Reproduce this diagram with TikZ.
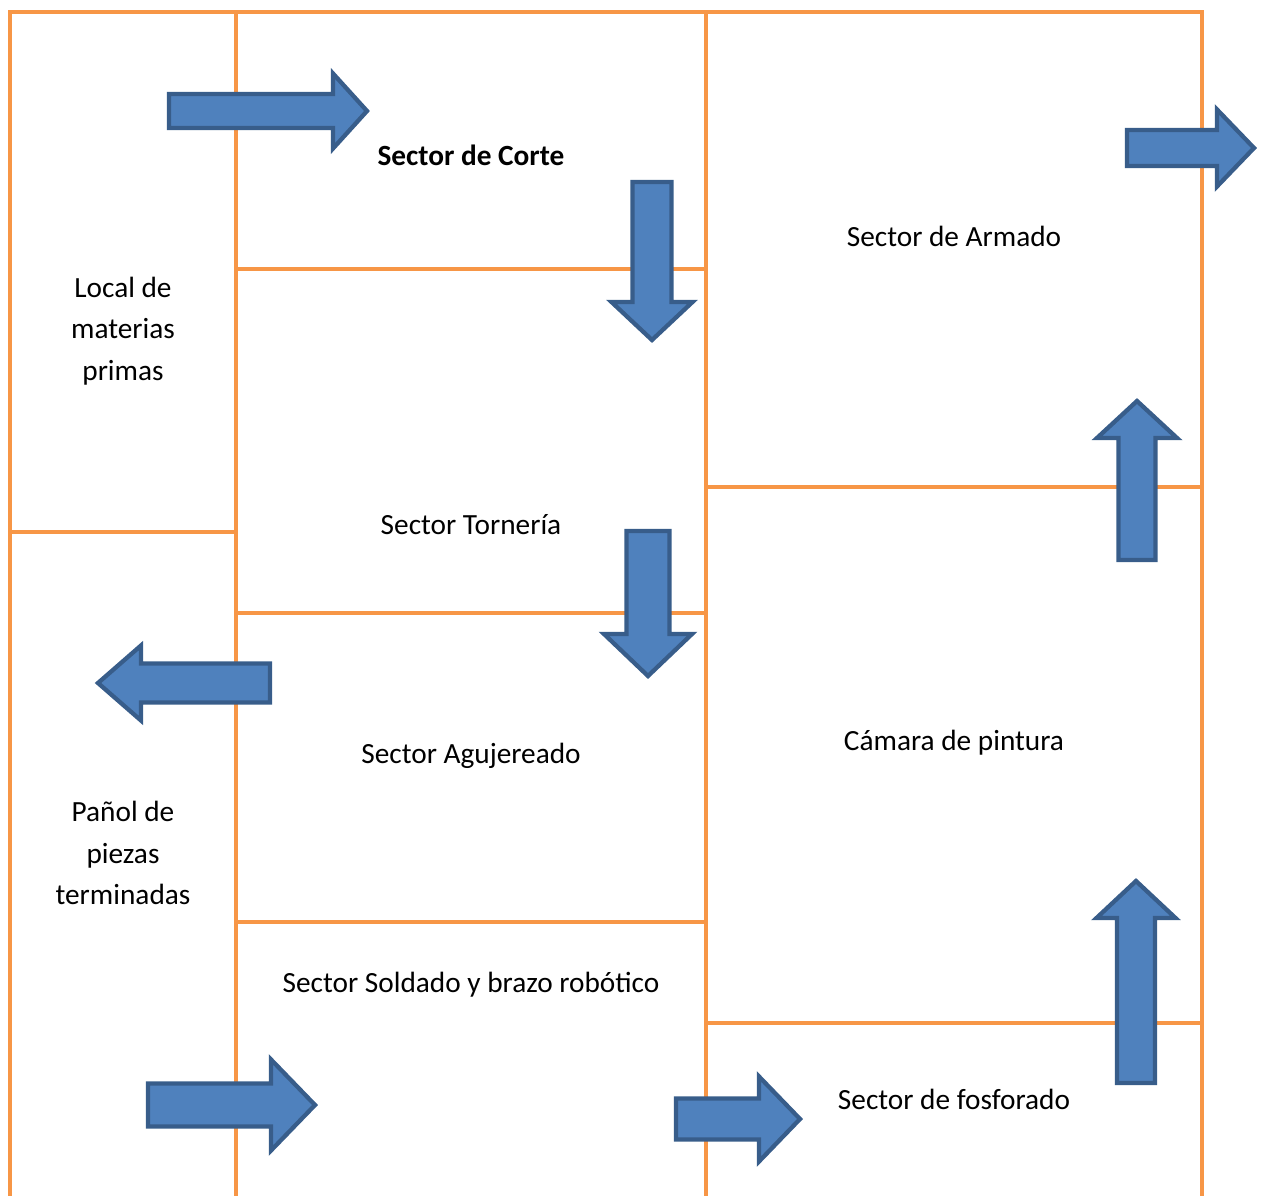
\documentclass[tikz,border=0pt]{standalone}
\usepackage{fontspec}
\setmainfont{Carlito}
\definecolor{wall}{HTML}{F79646}
\definecolor{afill}{HTML}{4F81BD}
\definecolor{aedge}{HTML}{385D8A}
\tikzset{
  wallline/.style={draw=wall,line width=4.3pt},
  blk/.style={fill=afill,draw=aedge,line width=4.3pt,line join=miter},
  lbl/.style={align=center,font=\fontsize{29.3}{41.5}\selectfont,inner sep=0pt}
}
% horizontal block arrow: tail x, head-base x, tip x, centre y, shaft half, head half
\newcommand{\harrow}[6]{\draw[blk] ({#1},{#4-#5}) -- ({#2},{#4-#5}) -- ({#2},{#4-#6}) -- ({#3},{#4}) -- ({#2},{#4+#6}) -- ({#2},{#4+#5}) -- ({#1},{#4+#5}) -- cycle;}
% vertical block arrow: centre x, tail y, head-base y, tip y, shaft half, head half
\newcommand{\varrow}[6]{\draw[blk] ({#1-#5},{#2}) -- ({#1-#5},{#3}) -- ({#1-#6},{#3}) -- ({#1},{#4}) -- ({#1+#6},{#3}) -- ({#1+#5},{#3}) -- ({#1+#5},{#2}) -- cycle;}
\begin{document}
\begin{tikzpicture}[x=1pt,y=-1pt]
\useasboundingbox (0,0) rectangle (1264,1196);
% walls
\draw[wallline] (10,1196) -- (10,12) -- (1202,12) -- (1202,1196);
\draw[wallline] (236,12) -- (236,1196);
\draw[wallline] (706,12) -- (706,1196);
\draw[wallline] (10,532) -- (236,532);
\draw[wallline] (236,269) -- (706,269);
\draw[wallline] (236,613) -- (706,613);
\draw[wallline] (236,922) -- (706,922);
\draw[wallline] (706,487) -- (1202,487);
\draw[wallline] (706,1023) -- (1202,1023);
% labels
\node[lbl,font=\fontsize{29.3}{41.5}\selectfont\bfseries] (corte) at (471,155) {Sector de Corte};
\node[lbl] (local) at (123,331) {Local de\\materias\\primas};
\node[lbl] (armado) at (954,236) {Sector de Armado};
\node[lbl] (torneria) at (471,525) {Sector Tornería};
\node[lbl] (agujereado) at (471,756) {Sector Agujereado};
\node[lbl] (camara) at (954,743) {Cámara de pintura};
\node[lbl] (panol) at (123,853) {Pañol de\\piezas\\terminadas};
\node[lbl] (soldado) at (471,985) {Sector Soldado y brazo robótico};
\node[lbl] (fosforado) at (954,1099) {Sector de fosforado};
% arrows
\harrow{169}{333}{367}{111}{17}{37.5}
\harrow{1127}{1217}{1254}{148}{18}{38.5}
\harrow{270}{141}{98}{683}{19.5}{37.5}
\harrow{148}{271}{315}{1105}{21.5}{45.5}
\harrow{676}{759}{800}{1119}{20.5}{42.5}
\varrow{652}{182}{302}{340}{19.5}{40.5}
\varrow{648}{531}{634}{676}{21.5}{44}
\varrow{1137}{560}{438}{401}{18.5}{40}
\varrow{1136}{1083}{918}{881}{19}{39.5}
\end{tikzpicture}
\end{document}
